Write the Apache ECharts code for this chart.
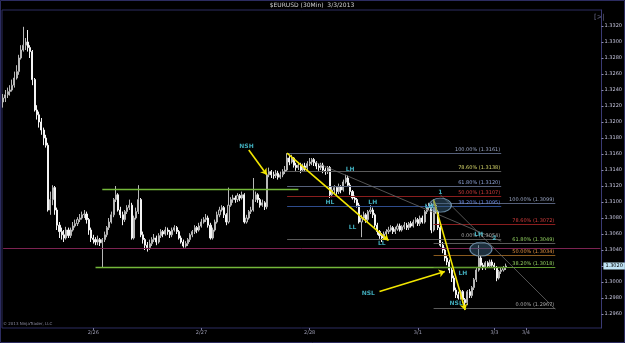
<!DOCTYPE html>
<html><head><meta charset="utf-8">
<script src="https://cdn.jsdelivr.net/npm/echarts/dist/echarts.min.js"></script>
<style>html,body{margin:0;padding:0;background:#000;}#c{width:625px;height:343px;}</style>
</head><body><div id="c"></div><script>
const dayLabels = ['2/26','2/27','2/28','3/1','3/3','3/4'];
const dayIndex = [40, 88, 136, 184, 218, 232];
const slotCount = 266;
const priceTicks = [1.2960,1.2980,1.3000,1.3020,1.3040,1.3060,1.3080,1.3100,1.3120,1.3140,1.3160,1.3180,1.3200,1.3220,1.3240,1.3260,1.3280,1.3300,1.3320];
const lastPrice = 1.3020;

const opens = [
1.3225,1.3230,1.3234,1.3238,1.3240,1.3246,1.3255,1.3263,1.3280,1.3290,
1.3296,1.3300,1.3293,1.3288,1.3253,1.3215,1.3209,1.3200,1.3190,1.3180,
1.3171,1.3090,1.3103,1.3118,1.3090,1.3071,1.3063,1.3059,1.3055,1.3065,
1.3058,1.3065,1.3070,1.3073,1.3078,1.3080,1.3084,1.3085,1.3078,1.3065,
1.3055,1.3053,1.3050,1.3053,1.3049,1.3053,1.3059,1.3068,1.3075,1.3084,
1.3103,1.3109,1.3090,1.3084,1.3078,1.3088,1.3093,1.3096,1.3055,1.3080,
1.3088,1.3103,1.3059,1.3053,1.3046,1.3043,1.3048,1.3053,1.3055,1.3050,
1.3058,1.3063,1.3060,1.3065,1.3063,1.3059,1.3065,1.3068,1.3063,1.3055,
1.3050,1.3045,1.3048,1.3053,1.3059,1.3063,1.3068,1.3065,1.3070,1.3075,
1.3078,1.3080,1.3071,1.3055,1.3065,1.3075,1.3084,1.3090,1.3093,1.3084,
1.3075,1.3096,1.3103,1.3105,1.3103,1.3108,1.3105,1.3109,1.3075,1.3080,
1.3088,1.3090,1.3103,1.3109,1.3103,1.3096,1.3099,1.3094,1.3134,1.3138,
1.3134,1.3133,1.3136,1.3131,1.3134,1.3138,1.3140,1.3155,1.3150,1.3155,
1.3146,1.3143,1.3146,1.3140,1.3145,1.3143,1.3148,1.3150,1.3153,1.3149,
1.3145,1.3143,1.3146,1.3140,1.3138,1.3143,1.3109,1.3115,1.3118,1.3113,
1.3119,1.3115,1.3125,1.3130,1.3121,1.3113,1.3105,1.3103,1.3096,1.3075,
1.3080,1.3084,1.3078,1.3088,1.3090,1.3084,1.3071,1.3063,1.3058,1.3055,
1.3060,1.3063,1.3065,1.3068,1.3063,1.3066,1.3070,1.3065,1.3069,1.3071,
1.3068,1.3073,1.3070,1.3075,1.3078,1.3073,1.3080,1.3075,1.3088,1.3093,
1.3096,1.3065,1.3096,1.3088,1.3068,1.3046,1.3040,1.3030,1.3025,1.3015,
1.3005,1.2990,1.2984,1.2980,1.2988,1.2978,1.2974,1.2988,1.2983,1.2993,
1.3003,1.3015,1.3030,1.3021,1.3018,1.3024,1.3020,1.3025,1.3021,1.3018,
1.3005,1.3013,1.3015,1.3018];
const closes = [
1.3230,1.3234,1.3238,1.3240,1.3246,1.3255,1.3263,1.3280,1.3290,1.3296,
1.3300,1.3293,1.3288,1.3253,1.3215,1.3209,1.3200,1.3190,1.3180,1.3171,
1.3090,1.3103,1.3118,1.3090,1.3071,1.3063,1.3059,1.3055,1.3065,1.3058,
1.3065,1.3070,1.3073,1.3078,1.3080,1.3084,1.3085,1.3078,1.3065,1.3055,
1.3053,1.3050,1.3053,1.3049,1.3053,1.3059,1.3068,1.3075,1.3084,1.3103,
1.3109,1.3090,1.3084,1.3078,1.3088,1.3093,1.3096,1.3055,1.3080,1.3088,
1.3103,1.3059,1.3053,1.3046,1.3043,1.3048,1.3053,1.3055,1.3050,1.3058,
1.3063,1.3060,1.3065,1.3063,1.3059,1.3065,1.3068,1.3063,1.3055,1.3050,
1.3045,1.3048,1.3053,1.3059,1.3063,1.3068,1.3065,1.3070,1.3075,1.3078,
1.3080,1.3071,1.3055,1.3065,1.3075,1.3084,1.3090,1.3093,1.3084,1.3075,
1.3096,1.3103,1.3105,1.3103,1.3108,1.3105,1.3109,1.3075,1.3080,1.3088,
1.3090,1.3103,1.3109,1.3103,1.3096,1.3099,1.3094,1.3134,1.3138,1.3134,
1.3133,1.3136,1.3131,1.3134,1.3138,1.3140,1.3155,1.3150,1.3155,1.3146,
1.3143,1.3146,1.3140,1.3145,1.3143,1.3148,1.3150,1.3153,1.3149,1.3145,
1.3143,1.3146,1.3140,1.3138,1.3143,1.3109,1.3115,1.3118,1.3113,1.3119,
1.3115,1.3125,1.3130,1.3121,1.3113,1.3105,1.3103,1.3096,1.3075,1.3080,
1.3084,1.3078,1.3088,1.3090,1.3084,1.3071,1.3063,1.3058,1.3055,1.3060,
1.3063,1.3065,1.3068,1.3063,1.3066,1.3070,1.3065,1.3069,1.3071,1.3068,
1.3073,1.3070,1.3075,1.3078,1.3073,1.3080,1.3075,1.3088,1.3093,1.3096,
1.3065,1.3096,1.3088,1.3068,1.3046,1.3040,1.3030,1.3025,1.3015,1.3005,
1.2990,1.2984,1.2980,1.2988,1.2978,1.2974,1.2988,1.2983,1.2993,1.3003,
1.3015,1.3030,1.3021,1.3018,1.3024,1.3020,1.3025,1.3021,1.3018,1.3005,
1.3013,1.3015,1.3018,1.3020];
const highs = [
1.3235,1.3240,1.3243,1.3246,1.3253,1.3263,1.3271,1.3284,1.3296,1.3319,
1.3305,1.3315,1.3296,1.3290,1.3255,1.3221,1.3213,1.3205,1.3193,1.3184,
1.3174,1.3113,1.3121,1.3120,1.3093,1.3075,1.3068,1.3065,1.3069,1.3068,
1.3068,1.3075,1.3078,1.3081,1.3085,1.3088,1.3090,1.3088,1.3080,1.3068,
1.3059,1.3056,1.3058,1.3055,1.3055,1.3063,1.3070,1.3080,1.3088,1.3105,
1.3120,1.3111,1.3094,1.3088,1.3090,1.3096,1.3103,1.3099,1.3083,1.3093,
1.3121,1.3105,1.3063,1.3055,1.3050,1.3053,1.3056,1.3060,1.3058,1.3061,
1.3066,1.3065,1.3069,1.3068,1.3065,1.3068,1.3071,1.3070,1.3065,1.3058,
1.3053,1.3051,1.3055,1.3061,1.3065,1.3071,1.3070,1.3074,1.3079,1.3081,
1.3085,1.3083,1.3074,1.3068,1.3078,1.3088,1.3094,1.3096,1.3095,1.3086,
1.3118,1.3106,1.3109,1.3108,1.3111,1.3110,1.3113,1.3111,1.3084,1.3090,
1.3094,1.3130,1.3113,1.3111,1.3105,1.3103,1.3101,1.3136,1.3143,1.3140,
1.3138,1.3140,1.3139,1.3138,1.3141,1.3145,1.3161,1.3158,1.3159,1.3156,
1.3149,1.3150,1.3149,1.3148,1.3149,1.3151,1.3155,1.3155,1.3155,1.3151,
1.3148,1.3149,1.3149,1.3143,1.3145,1.3145,1.3119,1.3121,1.3120,1.3123,
1.3121,1.3128,1.3134,1.3133,1.3124,1.3115,1.3108,1.3105,1.3099,1.3084,
1.3088,1.3086,1.3090,1.3096,1.3093,1.3086,1.3074,1.3065,1.3061,1.3063,
1.3066,1.3069,1.3071,1.3070,1.3069,1.3073,1.3073,1.3071,1.3075,1.3074,
1.3075,1.3076,1.3078,1.3081,1.3080,1.3083,1.3083,1.3090,1.3096,1.3099,
1.3099,1.3103,1.3099,1.3090,1.3070,1.3050,1.3043,1.3034,1.3028,1.3018,
1.3008,1.2993,1.2988,1.2990,1.2990,1.2980,1.2990,1.2991,1.2995,1.3005,
1.3018,1.3046,1.3033,1.3024,1.3026,1.3026,1.3028,1.3028,1.3024,1.3020,
1.3015,1.3018,1.3020,1.3023];
const lows = [
1.3218,1.3225,1.3230,1.3233,1.3238,1.3243,1.3253,1.3259,1.3278,1.3288,
1.3290,1.3288,1.3280,1.3246,1.3213,1.3203,1.3193,1.3184,1.3171,1.3168,
1.3088,1.3084,1.3096,1.3084,1.3065,1.3055,1.3053,1.3050,1.3053,1.3055,
1.3055,1.3063,1.3068,1.3070,1.3075,1.3078,1.3080,1.3073,1.3059,1.3050,
1.3048,1.3046,1.3046,1.3045,1.3018,1.3050,1.3056,1.3065,1.3073,1.3081,
1.3100,1.3088,1.3080,1.3071,1.3075,1.3085,1.3090,1.3053,1.3053,1.3078,
1.3085,1.3056,1.3048,1.3040,1.3038,1.3040,1.3045,1.3050,1.3046,1.3048,
1.3055,1.3056,1.3058,1.3059,1.3055,1.3056,1.3063,1.3060,1.3053,1.3048,
1.3043,1.3043,1.3045,1.3050,1.3056,1.3060,1.3061,1.3063,1.3068,1.3073,
1.3075,1.3068,1.3053,1.3053,1.3063,1.3073,1.3081,1.3088,1.3080,1.3071,
1.3073,1.3094,1.3099,1.3099,1.3100,1.3101,1.3103,1.3073,1.3073,1.3078,
1.3085,1.3088,1.3100,1.3099,1.3093,1.3094,1.3090,1.3091,1.3131,1.3130,
1.3129,1.3130,1.3128,1.3129,1.3131,1.3135,1.3138,1.3146,1.3148,1.3143,
1.3139,1.3140,1.3136,1.3138,1.3139,1.3140,1.3145,1.3146,1.3145,1.3141,
1.3139,1.3140,1.3136,1.3134,1.3135,1.3105,1.3106,1.3111,1.3109,1.3110,
1.3111,1.3113,1.3123,1.3119,1.3109,1.3103,1.3099,1.3093,1.3073,1.3056,
1.3078,1.3074,1.3075,1.3085,1.3080,1.3068,1.3059,1.3054,1.3050,1.3053,
1.3058,1.3060,1.3063,1.3060,1.3060,1.3064,1.3063,1.3063,1.3066,1.3065,
1.3065,1.3068,1.3068,1.3073,1.3070,1.3070,1.3073,1.3073,1.3085,1.3090,
1.3061,1.3063,1.3085,1.3065,1.3044,1.3036,1.3026,1.3021,1.3011,1.3000,
1.2988,1.2980,1.2978,1.2978,1.2974,1.2965,1.2971,1.2980,1.2980,1.2990,
1.3000,1.3013,1.3019,1.3015,1.3015,1.3018,1.3018,1.3019,1.3015,1.3001,
1.3003,1.3010,1.3013,1.3015];

// Fibonacci retracement drawings
const fibPcts = ['100.00%','78.60%','61.80%','50.00%','38.20%','0.00%'];
const fib1Levels = [1.3161,1.3138,1.3120,1.3107,1.3095,1.3054];
const fib1Span = [126, 221];
const fib1LineColors = ['#56607a','#5a5a5a','#56607a','#8a1e1e','#2e4c8c','#5a5a5a'];
const fib1TextColors = ['#9aa6c4','#d6d66a','#8ea2d6','#d23c3c','#6a8ae0','#a8a8a8'];
const fib2Levels = [1.3099,1.3072,1.3049,1.3034,1.3018,1.2967];
const fib2Span = [191, 245];
const fib2LineColors = ['#56607a','#8a1e1e','#5a5a5a','#8a5a1e','#5f9a2e','#5a5a5a'];
const fib2TextColors = ['#9aa6c4','#d23c3c','#92d060','#e09040','#92d060','#a8a8a8'];

// horizontal support/resistance lines
const greenUpper = {price: 1.3116, from: 44, to: 131};
const greenLower = {price: 1.3019, from: 41, to: 223};
const pinkLevel = 1.3042;

// yellow trend lines / arrows: [x1, y1, x2, y2]
const trendLines = [
  [126, 1.3161, 171, 1.3052],
  [191, 1.3103, 205, 1.2965]
];
const arrows = [
  [108.5, 1.3165, 117, 1.3134],
  [167, 1.2988, 196, 1.3013]
];
const greyLines = [
  [139, 1.3149, 221, 1.3051],
  [194, 1.3109, 245, 1.2966]
];

// swing annotations
const notes = [
  ['NSH',107.7,1.3170],['LH',153.8,1.3141],['HL',145,1.3100],['LH',164.4,1.3100],
  ['LL',155.2,1.3068],['LL',168.3,1.3048],['LH',188.6,1.3095],['1',194.3,1.3112],
  ['LH',211.4,1.3060],['2',217.6,1.3055],['LH',204.4,1.3011],['NSL',161.8,1.2986],['NSL',201.3,1.2973]
];
const ellipses = [[194.3,1.3096],[212.3,1.3041]];

const categories = [];
for (let i = 0; i < slotCount; i++) {
  const k = dayIndex.indexOf(i);
  categories.push(k >= 0 ? dayLabels[k] : String(i));
}
const candleData = opens.map((o, i) => [o, closes[i], lows[i], highs[i]]);
const showIdx = (idx) => dayIndex.indexOf(idx) >= 0;
const lastSlot = slotCount - 1;

const ml = [];
ml.push([
  {coord: [0, pinkLevel], lineStyle: {color: '#7d2352', width: 1, type: 'solid'}, label: {show: false}},
  {coord: [lastSlot, pinkLevel]}
]);
[greenUpper, greenLower].forEach(g => ml.push([
  {coord: [g.from, g.price], lineStyle: {color: '#74b83a', width: 1.3, type: 'solid'}, label: {show: false}},
  {coord: [g.to, g.price]}
]));
function addFib(levels, span, lc, tc) {
  levels.forEach((lv, k) => ml.push([
    {coord: [span[0], lv], lineStyle: {color: lc[k], width: 1, type: 'solid'},
     label: {show: true, position: 'insideEndTop', distance: 1, formatter: fibPcts[k] + ' (' + lv.toFixed(4) + ')', color: tc[k], fontSize: 5, fontFamily: 'DejaVu Sans'}},
    {coord: [span[1], lv]}
  ]));
}
addFib(fib1Levels, fib1Span, fib1LineColors, fib1TextColors);
addFib(fib2Levels, fib2Span, fib2LineColors, fib2TextColors);
greyLines.forEach(l => ml.push([
  {coord: [l[0], l[1]], lineStyle: {color: '#6a6a6a', width: 0.8, type: 'solid'}, label: {show: false}},
  {coord: [l[2], l[3]]}
]));
trendLines.concat(arrows).forEach(l => ml.push([
  {coord: [l[0], l[1]], symbol: 'none', lineStyle: {color: '#f2e600', width: 1.6, type: 'solid'}, label: {show: false}},
  {coord: [l[2], l[3]], symbol: 'arrow', symbolSize: 6}
]));
ml.push([
  {coord: [0, lastPrice], lineStyle: {color: 'rgba(0,0,0,0)', width: 0}, label: {show: true, position: 'end', distance: 3, formatter: lastPrice.toFixed(4),
    backgroundColor: '#bfe3f5', color: '#000', fontSize: 5, padding: [1, 2], fontFamily: 'DejaVu Sans', opacity: 1}},
  {coord: [lastSlot, lastPrice]}
]);

const chart = echarts.init(document.getElementById('c'), null, {renderer: 'canvas'});
chart.setOption({
  backgroundColor: '#000',
  animation: false,
  grid: {left: 2, right: 18, top: 10, bottom: 15, show: true, borderColor: '#2c2c60', borderWidth: 1, backgroundColor: '#000'},
  xAxis: {
    type: 'category', data: categories, boundaryGap: true,
    axisLine: {show: false},
    axisTick: {show: true, interval: showIdx, alignWithLabel: true, length: 2, lineStyle: {color: '#77779a'}},
    axisLabel: {interval: showIdx, color: '#9a9ab0', fontSize: 5, margin: 2, fontFamily: 'DejaVu Sans'},
    splitLine: {show: false}
  },
  yAxis: {
    type: 'value', position: 'right', min: 1.29425, max: 1.3340, scale: true,
    axisLine: {show: true, lineStyle: {color: '#3a3a74'}},
    axisTick: {show: true, customValues: priceTicks, length: 2, lineStyle: {color: '#8a8ab0'}},
    axisLabel: {customValues: priceTicks.filter(v => Math.abs(v - lastPrice) > 1e-6), color: '#c4c4dc', fontSize: 5, margin: 3,
      fontFamily: 'DejaVu Sans', formatter: v => v.toFixed(4)},
    splitLine: {show: false}
  },
  graphic: [
    {type: 'rect', shape: {x: 0.5, y: 0.5, width: 624, height: 342}, style: {fill: 'none', stroke: '#2c2c60', lineWidth: 1}, silent: true},
    {type: 'text', x: 312, y: 2, style: {text: '$EURUSD (30Min)  3/3/2013', fill: '#d0d0d0', fontSize: 6, fontFamily: 'DejaVu Sans', textAlign: 'center'}},
    {type: 'text', x: 594, y: 14, style: {text: '[>|', fill: '#6a6a8a', fontSize: 7, fontFamily: 'DejaVu Sans'}},
    {type: 'text', x: 3, y: 322, style: {text: '© 2013 NinjaTrader, LLC', fill: '#8a8aa0', fontSize: 4, fontFamily: 'DejaVu Sans'}}
  ],
  series: [
    {
      type: 'candlestick', data: candleData, barWidth: '70%',
      itemStyle: {color: '#1a1a1a', color0: '#f4f4f4', borderColor: '#b8b8b8', borderColor0: '#f4f4f4', borderWidth: 1},
      markLine: {silent: true, symbol: 'none', animation: false, data: ml},
      z: 3
    },
    {
      type: 'scatter', data: ellipses, symbol: 'circle', symbolSize: [22, 14], silent: true, z: 5,
      itemStyle: {color: 'rgba(58,98,128,0.6)', borderColor: '#7fa6c4', borderWidth: 1}
    },
    {
      type: 'scatter', silent: true, z: 6, symbolSize: 1,
      data: notes.map(n => ({value: [n[1], n[2]], label: {formatter: n[0]}})),
      itemStyle: {color: 'rgba(0,0,0,0)'},
      label: {show: true, position: 'inside', color: '#4fd3e6', fontSize: 6, fontWeight: 'bold', fontFamily: 'DejaVu Sans'}
    }
  ]
});
</script></body></html>
